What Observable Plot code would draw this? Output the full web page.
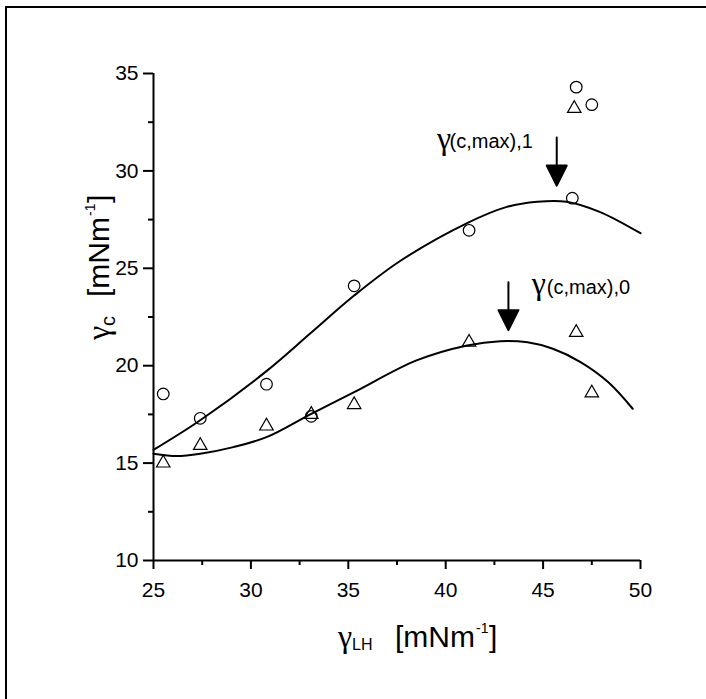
<!DOCTYPE html>
<html>
<head>
<meta charset="utf-8">
<script src="https://cdn.jsdelivr.net/npm/d3@7"></script>
<script src="https://cdn.jsdelivr.net/npm/@observablehq/plot@0.6"></script>
<style>
  html, body { margin: 0; padding: 0; background: #fff; overflow: hidden; }
  #chart { position: relative; width: 706px; height: 699px; }
  #chart svg g[aria-label="x-axis tick label"] text,
  #chart svg g[aria-label="y-axis tick label"] text { font-size: 21px; font-family: 'Liberation Sans', Arial, sans-serif; }
</style>
</head>
<body>
<div id="chart"></div>
<script>
// ---- data ----
const xTicks = [25, 30, 35, 40, 45, 50];
const xMinorTicks = [27.5, 32.5, 37.5, 42.5, 47.5];
const yTicks = [10, 15, 20, 25, 30, 35];
const yMinorTicks = [12.5, 17.5, 22.5, 27.5, 32.5];

// open circles (series 1)
const circleX = [25.5, 27.4, 30.8, 33.1, 35.3, 41.2, 46.5, 46.7, 47.5];
const circleY = [18.55, 17.3, 19.05, 17.4, 24.1, 26.95, 28.6, 34.3, 33.4];

// open triangles (series 0)
const triX = [25.5, 27.4, 30.8, 33.1, 35.3, 41.2, 46.6, 46.7, 47.5];
const triY = [15.0, 15.9, 16.9, 17.5, 18.0, 21.2, 33.2, 21.7, 18.6];

// fitted curve through circles
const fit1X = [25, 27.4, 30.8, 33.1, 35.3, 37.7, 41.1, 43.1, 44.7, 46.2, 47.9, 50];
const fit1Y = [15.68, 17.2, 19.72, 21.7, 23.6, 25.4, 27.32, 28.14, 28.42, 28.42, 27.9, 26.8];

// fitted curve through triangles
const fit0X = [25, 26.2, 27.4, 29.1, 30.8, 33.1, 35.3, 38.5, 41.1, 42.8, 44.2, 45.5, 46.9, 48.35, 49.6];
const fit0Y = [15.48, 15.36, 15.48, 15.82, 16.33, 17.53, 18.64, 20.27, 21.04, 21.26, 21.2, 20.87, 20.2, 19.15, 17.79];

// annotations
const annotGamma = ["γ", "γ"];
const annotGammaX = [39.55, 44.42];
const annotGammaY = [31.64, 24.2];
const annotSub = ["(c,max),1", "(c,max),0"];
const annotSubX = [40.2, 45.19];
const annotSubY = [31.48, 24.03];
const arrowX = [45.7, 43.22];
const arrowTopY = [31.71, 24.29];

// ---- build tables ----
const circles = circleX.map((x, i) => ({x, y: circleY[i]}));
const triangles = triX.map((x, i) => ({x, y: triY[i]}));
const fit1 = fit1X.map((x, i) => ({x, y: fit1Y[i]}));
const fit0 = fit0X.map((x, i) => ({x, y: fit0Y[i]}));
const gammas = annotGamma.map((t, i) => ({t, x: annotGammaX[i], y: annotGammaY[i]}));
const subs = annotSub.map((t, i) => ({t, x: annotSubX[i], y: annotSubY[i]}));
const arrows = arrowX.map((x, i) => ({x, y: arrowTopY[i]}));

const arrowShape = {
  draw(context, l) {
    context.moveTo(0, 0);
    context.lineTo(0, -l + 18);
    context.moveTo(-10, -l + 20);
    context.lineTo(10, -l + 20);
    context.lineTo(0, -l);
    context.closePath();
  }
};

const FONT = "'Liberation Sans', Arial, Helvetica, sans-serif";
const GFONT = "'Liberation Serif', 'Times New Roman', serif";

const plot = Plot.plot({
  width: 706,
  height: 699,
  marginLeft: 153,
  marginRight: 66,
  marginTop: 73,
  marginBottom: 139,
  x: {domain: [25, 50]},
  y: {domain: [10, 35]},
  style: {fontFamily: FONT, fontSize: "21px", color: "black", background: "white", overflow: "visible"},
  marks: [
    Plot.axisX({ticks: xTicks, tickSize: 9, tickPadding: 13, label: null, strokeWidth: 2}),
    Plot.axisX({ticks: xMinorTicks, tickSize: 5, tickFormat: () => "", label: null, strokeWidth: 2}),
    Plot.axisY({ticks: yTicks, tickSize: 10, tickPadding: 5, label: null, strokeWidth: 2}),
    Plot.axisY({ticks: yMinorTicks, tickSize: 5, tickFormat: () => "", label: null, strokeWidth: 2}),
    Plot.ruleX([25], {strokeWidth: 2}),
    Plot.ruleY([10], {strokeWidth: 2}),
    Plot.line(fit1, {x: "x", y: "y", curve: "catmull-rom", stroke: "black", strokeWidth: 2}),
    Plot.line(fit0, {x: "x", y: "y", curve: "catmull-rom", stroke: "black", strokeWidth: 2}),
    Plot.dot(circles, {x: "x", y: "y", r: 5.8, stroke: "black", strokeWidth: 1.2, fill: "none"}),
    Plot.dot(triangles, {x: "x", y: "y", r: 5, symbol: "triangle", stroke: "black", strokeWidth: 1.2, fill: "none"}),
    Plot.vector(arrows, {x: "x", y: "y", length: 48, rotate: 180, anchor: "start", shape: arrowShape, fill: "black", stroke: "black", strokeWidth: 2}),
    Plot.text(gammas, {x: "x", y: "y", text: "t", textAnchor: "start", fontSize: 32, fontFamily: GFONT, fill: "black"}),
    Plot.text(subs, {x: "x", y: "y", text: "t", textAnchor: "start", fontSize: 20, fill: "black"})
  ]
});

const svg = d3.select(plot);

// outer frame (only top/left edges fall within the window)
svg.append("rect")
  .attr("x", 6).attr("y", 7).attr("width", 900).attr("height", 900)
  .attr("fill", "none").attr("stroke", "black").attr("stroke-width", 2);

// helper: place a piece of text
function piece(parent, str, x, y, size, family) {
  return parent.append("text")
    .attr("x", x).attr("y", y)
    .attr("text-anchor", "start")
    .attr("font-family", family).attr("font-size", size)
    .attr("fill", "black").text(str);
}

// x axis title
const xg = svg.append("g").attr("text-anchor", "start");
piece(xg, "γ", 338, 647, 32, GFONT);
piece(xg, "LH", 352, 650, 16, FONT);
piece(xg, "[mNm", 395, 647, 30, FONT);
piece(xg, "-1", 476, 633, 14, FONT);
piece(xg, "]", 489, 647, 30, FONT);

// y axis title (rotated)
const yg = svg.append("g").attr("text-anchor", "start").attr("transform", "translate(109,340) rotate(-90)");
piece(yg, "γ", 0, 0, 32, GFONT);
piece(yg, "c", 14, 6, 20, FONT);
piece(yg, "[mNm", 43, 0, 30, FONT);
piece(yg, "-1", 124, -14, 14, FONT);
piece(yg, "]", 137, 0, 30, FONT);

document.getElementById("chart").appendChild(plot);
</script>
</body>
</html>
